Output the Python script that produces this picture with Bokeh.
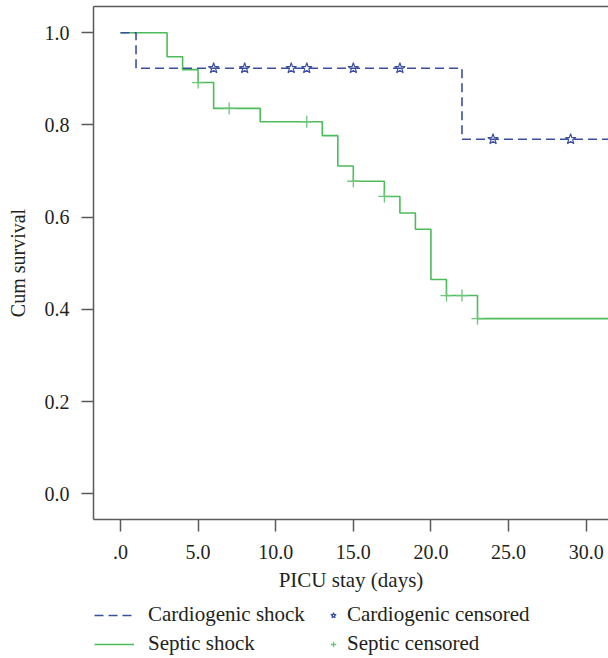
import numpy as np
from bokeh.plotting import figure
from bokeh.models import (Range1d, LinearAxis, FixedTicker, Legend, LegendItem,
                          ColumnDataSource)
from bokeh.layouts import column
from bokeh.embed import file_html
from bokeh.resources import INLINE

# ---- data ----
cardio_t = [0, 1, 22, 33]
cardio_s = [1.0, 0.923, 0.769, 0.769]
cardio_cens_t = [6, 8, 11, 12, 15, 18, 24, 29]

septic_t = [0, 3, 4, 5, 6, 9, 13, 14, 15, 17, 18, 19, 20, 21, 23, 33]
septic_s = [1.0, 0.948, 0.920, 0.892, 0.836, 0.807, 0.777, 0.711, 0.678,
            0.645, 0.609, 0.574, 0.465, 0.430, 0.380, 0.380]
septic_cens_t = [5, 7, 12, 15, 17, 21, 22, 23]

x_ticks = [0, 5, 10, 15, 20, 25, 30]
x_tick_labels = [".0", "5.0", "10.0", "15.0", "20.0", "25.0", "30.0"]
y_ticks = [0.0, 0.2, 0.4, 0.6, 0.8, 1.0]
y_tick_labels = ["0.0", "0.2", "0.4", "0.6", "0.8", "1.0"]

series_names = ["Cardiogenic shock", "Septic shock"]
censor_names = ["Cardiogenic censored", "Septic censored"]


def surv_at(times, surv, ts):
    idx = np.searchsorted(np.array(times), np.array(ts), side="right") - 1
    return [surv[i] for i in idx]


cardio_cens_s = surv_at(cardio_t, cardio_s, cardio_cens_t)
septic_cens_s = surv_at(septic_t, septic_s, septic_cens_t)

FONT = "Liberation Serif"
TXT = "#231f20"
FRAME = "#5a5a5a"
BLUE = "#3b4fa0"
GREEN = "#4cbb5a"
GREEN_L = "#6cc677"

W = 608
p = figure(width=W, height=598, output_backend="svg", toolbar_location=None,
           x_range=Range1d(-1.74, 31.44), y_range=Range1d(-0.0557, 1.057),
           min_border_left=93, min_border_right=0, min_border_top=6,
           min_border_bottom=79)
p.outline_line_color = None
p.grid.visible = False

for ax in (p.xaxis[0], p.yaxis[0]):
    ax.axis_line_color = FRAME
    ax.axis_line_width = 1.5
    ax.major_tick_line_color = FRAME
    ax.major_tick_line_width = 1.5
    ax.major_tick_in = 0
    ax.major_tick_out = 12
    ax.minor_tick_line_color = None
    ax.major_label_text_font = FONT
    ax.major_label_text_font_size = "20px"
    ax.major_label_text_color = TXT
    ax.axis_label_text_font = FONT
    ax.axis_label_text_font_size = "21px"
    ax.axis_label_text_font_style = "normal"
    ax.axis_label_text_color = TXT

p.xaxis[0].ticker = FixedTicker(ticks=x_ticks)
p.xaxis[0].major_label_overrides = {t: l for t, l in zip(x_ticks, x_tick_labels)}
p.xaxis[0].axis_label = "PICU stay (days)"
p.xaxis[0].major_label_standoff = 13
p.xaxis[0].axis_label_standoff = 6

p.yaxis[0].ticker = FixedTicker(ticks=y_ticks)
p.yaxis[0].major_label_overrides = {t: l for t, l in zip(y_ticks, y_tick_labels)}
p.yaxis[0].axis_label = "Cum survival"
p.yaxis[0].axis_label_text_font_size = "20px"
p.yaxis[0].major_label_standoff = 12
p.yaxis[0].axis_label_standoff = 13

top_ax = LinearAxis(ticker=FixedTicker(ticks=[]), major_tick_in=0, major_tick_out=0,
                    minor_tick_in=0, minor_tick_out=0, major_label_standoff=0,
                    axis_line_color=FRAME, axis_line_width=1.5)
p.add_layout(top_ax, "above")

src_c = ColumnDataSource(dict(t=cardio_t, s=cardio_s))
src_s = ColumnDataSource(dict(t=septic_t, s=septic_s))
src_cc = ColumnDataSource(dict(t=cardio_cens_t, s=cardio_cens_s))
src_sc = ColumnDataSource(dict(t=septic_cens_t, s=septic_cens_s))

line_c = dict(line_color=BLUE, line_width=1.6, line_dash="9 5")
line_s = dict(line_color=GREEN, line_width=1.6)
mark_c = dict(marker="star", size=11, line_color=BLUE, fill_color=None, line_width=1.2)
mark_s = dict(marker="cross", size=12, line_color=GREEN_L, line_width=1.3)

p.step("t", "s", source=src_s, mode="after", **line_s)
p.step("t", "s", source=src_c, mode="after", **line_c)
p.scatter("t", "s", source=src_sc, **mark_s)
p.scatter("t", "s", source=src_cc, **mark_c)

# ---- legend strip below the plot (hidden renderers only feed the legend icons) ----
lf = figure(width=W, height=60, output_backend="svg", toolbar_location=None,
            x_range=Range1d(-1.74, 31.44), y_range=Range1d(0, 1),
            x_axis_location=None, y_axis_location=None,
            min_border_left=0, min_border_right=0, min_border_top=0, min_border_bottom=0)
lf.outline_line_color = None
lf.grid.visible = False

lr_c = lf.step("t", "s", source=src_c, mode="after", visible=False, **line_c)
lr_s = lf.step("t", "s", source=src_s, mode="after", visible=False, **line_s)
lr_cc = lf.scatter("t", "s", source=src_cc, visible=False, **mark_c)
lr_sc = lf.scatter("t", "s", source=src_sc, visible=False, **mark_s)

common = dict(orientation="vertical", glyph_height=20, label_height=20, spacing=4,
              padding=0, margin=0, border_line_color=None, background_fill_alpha=0,
              inactive_fill_alpha=0,
              label_text_font=FONT, label_text_font_size="21px",
              label_text_color=TXT)

leg1 = Legend(items=[LegendItem(label=series_names[0], renderers=[lr_c]),
                     LegendItem(label=series_names[1], renderers=[lr_s])],
              location=(1, 2), glyph_width=40, label_standoff=14, **common)
leg2 = Legend(items=[LegendItem(label=censor_names[0], renderers=[lr_cc]),
                     LegendItem(label=censor_names[1], renderers=[lr_sc])],
              location=(233, 2), glyph_width=14, label_standoff=7, **common)
lf.add_layout(leg1)
lf.add_layout(leg2)

open("out.html", "w").write(file_html(column(p, lf, spacing=0), INLINE))
